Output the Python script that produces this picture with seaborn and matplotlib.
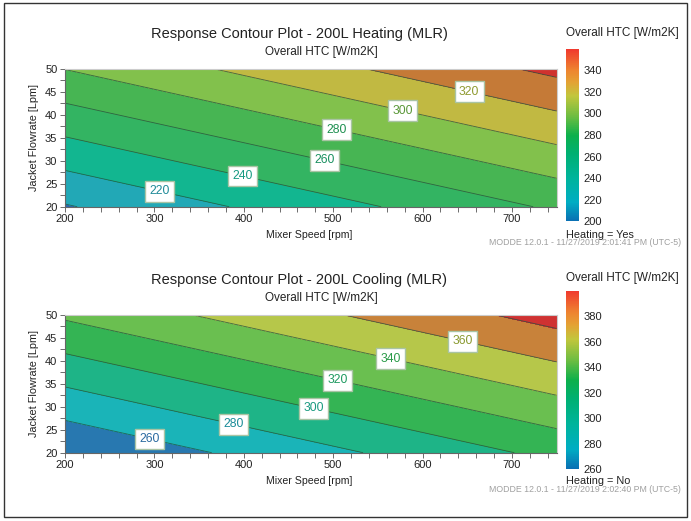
import numpy as np
import matplotlib
matplotlib.use("Agg")
import matplotlib.pyplot as plt
import seaborn as sns
from matplotlib.colors import LinearSegmentedColormap, Normalize
from matplotlib.cm import ScalarMappable
from matplotlib.patches import Rectangle
from matplotlib.ticker import MultipleLocator, FixedLocator

# ---------------- data ----------------
mixer_speed = [200, 750]          # rpm, grid columns
jacket_flow = [20, 50]            # Lpm, grid rows
# Overall HTC [W/m2K] at the grid corners (rows = flow, cols = speed)
htc_heating = [[198.4, 263.1],
               [280.3, 345.0]]
htc_cooling = [[240.6, 305.6],
               [323.1, 388.1]]

heating_lines = [200, 220, 240, 260, 280, 300, 320, 340]
cooling_lines = [260, 280, 300, 320, 340, 360, 380]
heating_labels = [220, 240, 260, 280, 300, 320]
cooling_labels = [260, 280, 300, 320, 340, 360]
heating_cbar_ticks = [200, 220, 240, 260, 280, 300, 320, 340]
cooling_cbar_ticks = [260, 280, 300, 320, 340, 360, 380]
heating_cbar_range = [200, 359]
cooling_cbar_range = [260, 400]
x_ticks = [200, 300, 400, 500, 600, 700]
y_ticks = [20, 25, 30, 35, 40, 45, 50]

titles = ["Response Contour Plot - 200L Heating (MLR)",
          "Response Contour Plot - 200L Cooling (MLR)"]
conditions = ["Heating = Yes", "Heating = No"]
stamps = ["MODDE 12.0.1 - 11/27/2019 2:01:41 PM (UTC-5)",
          "MODDE 12.0.1 - 11/27/2019 2:02:40 PM (UTC-5)"]
response = "Overall HTC [W/m2K]"
x_label = "Mixer Speed [rpm]"
y_label = "Jacket Flowrate [Lpm]"

# ---------------- styles ----------------
heating_fill = ['#2a68b0', '#22a8b6', '#12b690', '#33b462', '#47b553',
                '#82c14c', '#c1b942', '#c57a37', '#cf322e']
cooling_fill = ['#2878b0', '#1ab4b8', '#1eb487', '#34b454', '#6abf50',
                '#b6c74a', '#c8823a', '#cf3232']
heating_text = {220: '#1f8a98', 240: '#169a82', 260: '#1a9060',
                280: '#1e9050', 300: '#5a9838', 320: '#8f9a30'}
cooling_text = {260: '#2a6aa0', 280: '#1a8c98', 300: '#1a9a80',
                320: '#1e9a60', 340: '#2a9a48', 360: '#8a9a30'}
heating_label_pos = [(306, 23.6), (399, 26.9), (490, 30.2),
                     (504, 36.9), (578, 41.1), (652, 45.1)]
cooling_label_pos = [(295, 23.1), (389, 26.4), (478, 29.7),
                     (505, 35.8), (564, 40.6), (645, 44.4)]

cmap = LinearSegmentedColormap.from_list("modde", [
    (0.00, '#0a6fb3'), (0.11, '#00adc3'), (0.25, '#00b49c'),
    (0.40, '#00b070'), (0.50, '#0db04b'), (0.61, '#6cbd42'),
    (0.73, '#c2c63c'), (0.81, '#e4a234'), (0.88, '#ee8430'),
    (1.00, '#f03a2e')])

sns.set_theme(style="white")
plt.rcParams['font.family'] = ['Liberation Sans', 'DejaVu Sans']

W, H = 691, 521
fig = plt.figure(figsize=(W / 100, H / 100), dpi=100)


def fx(px):
    return px / W


def fy(py):
    return 1 - py / H


panels = [
    dict(Z=htc_heating, lines=heating_lines, fill=heating_fill,
         labels=heating_labels, pos=heating_label_pos, tcol=heating_text,
         ticks=heating_cbar_ticks, rng=heating_cbar_range,
         off=0, cb=(49.3, 221.5)),
    dict(Z=htc_cooling, lines=cooling_lines, fill=cooling_fill,
         labels=cooling_labels, pos=cooling_label_pos, tcol=cooling_text,
         ticks=cooling_cbar_ticks, rng=cooling_cbar_range,
         off=246, cb=(291.0, 469.0)),
]

ax_left, ax_right = 65, 556.7
for i, p in enumerate(panels):
    off = p['off']
    top, bot = 69 + off, 206.7 + off
    ax = fig.add_axes([fx(ax_left), fy(bot), fx(ax_right - ax_left),
                       (bot - top) / H])
    X, Y = np.meshgrid(mixer_speed, jacket_flow)
    Z = np.array(p['Z'])
    bounds = [Z.min() - 50] + p['lines'] + [Z.max() + 50]
    ax.contourf(X, Y, Z, levels=bounds, colors=p['fill'])
    ax.contour(X, Y, Z, levels=p['lines'], colors='#24503f',
               linewidths=0.6, alpha=0.8)
    cs_lab = ax.contour(X, Y, Z, levels=p['labels'], colors='none',
                        linewidths=0)
    texts = ax.clabel(cs_lab, manual=p['pos'], inline=False, fmt='%d',
                      fontsize=8.7)
    for t in texts:
        t.set_rotation(0)
        val = int(float(t.get_text()))
        t.set_color(p['tcol'].get(val, '#1e9050'))
        t.set_bbox(dict(boxstyle='square,pad=0.36', fc='white',
                        ec='#a9c4a4', lw=1.0))
    ax.set_xlim(200, 750)
    ax.set_ylim(20, 50)
    ax.xaxis.set_major_locator(FixedLocator(x_ticks))
    ax.yaxis.set_major_locator(FixedLocator(y_ticks))
    ax.xaxis.set_minor_locator(MultipleLocator(20))
    ax.yaxis.set_minor_locator(MultipleLocator(2.5))
    ax.tick_params(which='both', direction='out', length=3.5, width=0.6,
                   color='#555555', bottom=True, left=True,
                   labelsize=8, labelcolor='#222222', pad=2)
    for s in ['left', 'bottom']:
        ax.spines[s].set_color('#666666')
        ax.spines[s].set_linewidth(0.8)
    for s in ['top', 'right']:
        ax.spines[s].set_color('#cccccc')
        ax.spines[s].set_linewidth(0.8)
    ax.grid(False)

    # texts
    cx = (ax_left + ax_right) / 2
    fig.text(fx(299), fy(34 + off), titles[i], ha='center', va='center',
             fontsize=10.5, color='#222222')
    fig.text(fx(321), fy(52 + off), response, ha='center', va='center',
             fontsize=8.5, color='#222222')
    fig.text(fx(309), fy(235 + off), x_label, ha='center', va='center',
             fontsize=7.6, color='#222222')
    fig.text(fx(34), fy((top + bot) / 2), y_label, ha='center',
             va='center', rotation=90, fontsize=7.8, color='#222222')
    fig.text(fx(566), fy(33 + off - (1 if i else 0)), response, ha='left',
             va='center', fontsize=8.5, color='#222222')
    fig.text(fx(566), fy([234.5, 481.5][i]), conditions[i], ha='left',
             va='center', fontsize=7.8, color='#222222')
    fig.text(fx(681), fy([242.5, 490][i]), stamps[i], ha='right',
             va='center', fontsize=6.3, color='#a0a0a0')

    # colorbar
    ctop, cbot = p['cb']
    cax = fig.add_axes([fx(565.5), fy(cbot), fx(13.5), (cbot - ctop) / H])
    sm = ScalarMappable(norm=Normalize(*p['rng']), cmap=cmap)
    cb = fig.colorbar(sm, cax=cax)
    cb.outline.set_visible(False)
    cb.set_ticks(p['ticks'])
    cax.tick_params(length=0, labelsize=8, pad=3, labelcolor='#222222')

fig.patches.append(Rectangle((fx(4), fy(517)), fx(683), 514 / H,
                             transform=fig.transFigure, fill=False,
                             ec='#333333', lw=1.0))

fig.savefig("out.png", dpi=100)
